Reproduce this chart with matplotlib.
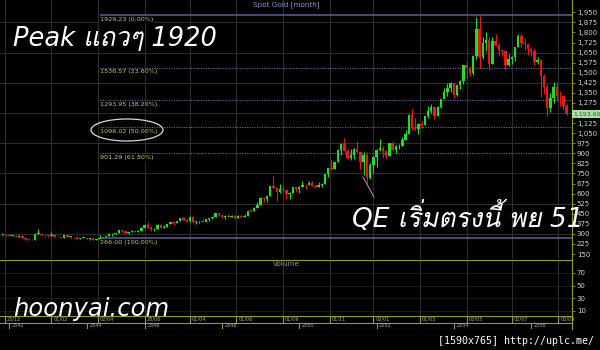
import numpy as np
import matplotlib
matplotlib.use("Agg")
import matplotlib.pyplot as plt
from matplotlib import font_manager
from matplotlib.ft2font import FT2Font
from matplotlib.patches import Ellipse
from matplotlib.lines import Line2D

# monthly spot gold, Nov 1998 .. Dec 2013 (source skips Jul-Dec 2001)
opens = [292, 294,
         288, 287, 287, 279, 286, 268, 261, 255, 254, 299, 299, 292,
         290, 283, 293, 278, 274, 272, 288, 277, 277, 273, 264, 270,
         272, 265, 267, 258, 264, 267,
         277, 282, 297, 302, 308, 327, 318, 304, 312, 324, 317, 319,
         347, 368, 347, 334, 336, 364, 346, 354, 375, 388, 384, 398,
         416, 402, 396, 427, 388, 393, 395, 391, 407, 415, 429, 452,
         438, 422, 435, 428, 435, 417, 436, 429, 433, 473, 470, 495,
         513, 568, 556, 582, 654, 643, 613, 633, 623, 599, 604, 646,
         632, 650, 665, 662, 679, 659, 650, 666, 673, 743, 789, 783,
         834, 923, 972, 916, 865, 886, 930, 913, 833, 884, 718, 815,
         869, 928, 942, 916, 883, 979, 927, 954, 955, 1001, 1040, 1182,
         1097, 1081, 1118, 1113, 1180, 1212, 1244, 1181, 1248, 1307, 1358, 1386,
         1421, 1333, 1411, 1439, 1556, 1536, 1500, 1628, 1826, 1620, 1722, 1746,
         1566, 1738, 1710, 1669, 1664, 1561, 1604, 1614, 1691, 1772, 1719, 1713,
         1675, 1664, 1578, 1595, 1472, 1393, 1234, 1312, 1395, 1326, 1323, 1253]
highs = [300, 297,
         293, 291, 290, 291, 290, 268, 264, 259, 302, 338, 302, 293,
         292, 316, 296, 287, 278, 293, 292, 279, 277, 275, 272, 275,
         272, 270, 268, 265, 293, 275,
         285, 303, 304, 310, 328, 329, 321, 315, 326, 325, 326, 349,
         372, 389, 356, 342, 373, 371, 365, 376, 391, 392, 399, 417,
         427, 414, 431, 430, 395, 398, 411, 414, 416, 429, 455, 456,
         438, 438, 445, 438, 437, 441, 437, 447, 474, 478, 497, 540,
         571, 574, 584, 654, 730, 644, 673, 663, 630, 609, 649, 648,
         658, 690, 668, 692, 691, 665, 683, 680, 745, 790, 848, 838,
         932, 975, 1011, 935, 933, 939, 988, 916, 912, 906, 830, 881,
         934, 1006, 958, 925, 980, 990, 959, 966, 1025, 1070, 1195, 1227,
         1162, 1128, 1137, 1180, 1249, 1265, 1245, 1250, 1308, 1388, 1424, 1431,
         1424, 1411, 1447, 1557, 1577, 1552, 1632, 1913, 1920, 1764, 1803, 1764,
         1763, 1791, 1720, 1677, 1667, 1640, 1625, 1693, 1788, 1796, 1755, 1723,
         1694, 1683, 1616, 1604, 1488, 1417, 1347, 1433, 1434, 1361, 1323, 1267]
lows = [291, 284,
        283, 282, 278, 278, 267, 257, 252, 252, 253, 296, 289, 280,
        280, 283, 276, 273, 268, 272, 275, 270, 268, 263, 263, 267,
        262, 255, 257, 255, 263, 266,
        276, 282, 287, 300, 306, 314, 300, 301, 311, 313, 315, 318,
        343, 346, 325, 319, 335, 342, 341, 350, 371, 367, 378, 396,
        400, 392, 391, 384, 371, 382, 387, 390, 399, 412, 426, 433,
        418, 411, 425, 423, 414, 415, 418, 428, 433, 462, 467, 492,
        513, 538, 537, 580, 643, 543, 608, 613, 561, 560, 604, 610,
        603, 650, 636, 662, 653, 640, 646, 648, 670, 721, 776, 781,
        834, 884, 915, 856, 850, 860, 907, 786, 736, 681, 706, 753,
        801, 920, 866, 866, 880, 915, 904, 932, 955, 1000, 1040, 1075,
        1075, 1045, 1088, 1113, 1164, 1199, 1157, 1177, 1240, 1310, 1330, 1360,
        1309, 1326, 1381, 1418, 1462, 1478, 1480, 1603, 1532, 1600, 1665, 1523,
        1563, 1696, 1628, 1627, 1527, 1547, 1565, 1591, 1690, 1692, 1672, 1635,
        1626, 1555, 1562, 1321, 1338, 1180, 1208, 1271, 1293, 1251, 1221, 1186]
closes = [294, 288,
          287, 287, 279, 286, 268, 261, 255, 254, 299, 299, 292, 290,
          283, 293, 278, 274, 272, 288, 277, 277, 273, 264, 270, 272,
          265, 267, 258, 264, 267, 270,
          282, 297, 302, 308, 327, 318, 304, 312, 324, 317, 319, 347,
          368, 347, 334, 336, 364, 346, 354, 375, 388, 384, 398, 416,
          402, 396, 427, 388, 393, 395, 391, 407, 415, 429, 452, 438,
          422, 435, 428, 435, 417, 436, 429, 433, 473, 470, 495, 513,
          568, 556, 582, 654, 643, 613, 633, 623, 599, 604, 646, 632,
          650, 665, 662, 679, 659, 650, 666, 673, 743, 789, 783, 834,
          923, 972, 916, 865, 886, 930, 913, 833, 884, 718, 815, 869,
          928, 942, 916, 883, 979, 927, 954, 955, 1001, 1040, 1182, 1097,
          1081, 1118, 1113, 1180, 1212, 1244, 1181, 1248, 1307, 1358, 1386, 1421,
          1333, 1411, 1439, 1556, 1536, 1500, 1628, 1826, 1620, 1722, 1746, 1566,
          1738, 1710, 1669, 1664, 1561, 1604, 1614, 1691, 1772, 1719, 1713, 1675,
          1664, 1578, 1595, 1472, 1393, 1234, 1312, 1395, 1326, 1323, 1253, 1193.6]

fib_levels = [1929.23, 1536.57, 1293.95, 1096.02, 901.29, 266.00]
fib_pcts = [0.00, 23.60, 38.20, 50.00, 61.80, 100.00]
fib_start = 30

price_ticks = list(range(150, 1951, 75))
grid_levels = price_ticks[2::3]
volume_ticks = [10, 30, 50, 70]
date_ticks = [0.5, 15, 29.5, 44, 58, 72.5, 87, 101.5, 115, 129.5, 144, 158, 172.5]
date_labels = ["25/12", "01/02", "02/04", "28/06", "01/04", "01/06", "01/09",
               "01/11", "02/01", "01/03", "02/05", "02/07", "03/09"]
year_starts = [2, 26, 44, 68, 92, 116, 140, 164]
year_labels = ["2542", "2544", "2546", "2548", "2550", "2552", "2554", "2556"]

W, H = 600, 350
BG = "#000000"
UP = "#1ee01e"
DOWN = "#e81818"
OLIVE = "#9a9a28"
GRID = "#303030"
BLUE_TXT = "#8496c8"


def thai_font():
    for f in font_manager.fontManager.ttflist:
        try:
            if 0x0E41 in FT2Font(f.fname).get_charmap():
                return f.name
        except Exception:
            continue
    return "DejaVu Sans"


def fx(px):
    return px / W


def fy(py):
    return 1 - py / H


THAI = thai_font()
fam = ["DejaVu Sans", THAI]

fig = plt.figure(figsize=(6, 3.5), dpi=100, facecolor=BG)
xlim = (-0.93, 176.7)

ax = fig.add_axes([0, fy(259), fx(572), 259 / H], facecolor=BG)
vax = fig.add_axes([0, fy(316), fx(572), 56 / H], facecolor=BG)
dax = fig.add_axes([0, fy(329), fx(572), 13 / H], facecolor=BG)

for a in (ax, vax, dax):
    a.set_xlim(*xlim)
    for s in a.spines.values():
        s.set_visible(False)
    a.spines["right"].set_visible(True)
    a.spines["right"].set_color(OLIVE)
    a.set_xticks([])

# price panel
ax.set_ylim(112.8, 2041.6)
ax.yaxis.tick_right()
ax.set_yticks(price_ticks)
ax.set_yticklabels([f"{t:,}" for t in price_ticks])
ax.tick_params(axis="y", colors=OLIVE, labelcolor="#d2d2d2", labelsize=5,
               length=2, width=0.6, pad=1.5)
for t in grid_levels:
    ax.axhline(t, color=GRID, lw=0.7, zorder=0)
for d in date_ticks:
    for a in (ax, vax):
        a.axvline(d, color=GRID, lw=0.7, zorder=0)

x = np.arange(len(closes))
o = np.array(opens, dtype=float)
c = np.array(closes, dtype=float)
up = c >= o
cols = np.where(up, UP, DOWN)
ax.vlines(x, lows, highs, colors=cols, lw=0.8, zorder=3)
ax.bar(x, np.maximum(np.abs(c - o), 4), bottom=np.minimum(o, c), width=0.75,
       color=cols, lw=0, zorder=3)

for lvl, pct in zip(fib_levels, fib_pcts):
    solid = pct in (0.0, 100.0)
    ax.hlines(lvl, fib_start, xlim[1], color="#5c5ca8" if solid else "#6a6aa8",
              lw=1.1 if solid else 0.8, linestyles="-" if solid else (0, (1, 1.2)),
              zorder=2)
    ax.annotate(f"{lvl:.2f} ({pct:.2f}%)", (fib_start, lvl), xytext=(0, -3),
                textcoords="offset points", va="center", ha="left",
                fontsize=4.6, color="#cccc40", zorder=4,
                bbox=dict(boxstyle="square,pad=0.15", fc=BG, ec="none"))

# last price tag
ax.annotate(f"{closes[-1]:,.2f}", (1.0, closes[-1]), xycoords=("axes fraction", "data"),
            xytext=(1, 0), textcoords="offset points", va="center", ha="left",
            fontsize=4.5, color="#355a35", annotation_clip=False,
            bbox=dict(boxstyle="square,pad=0.2", fc="#a8e0a8", ec="none"))

ax.text(0.5, 1 - 5 / 259, "Spot Gold [month]", transform=ax.transAxes,
        ha="center", va="center", fontsize=5.2, color=BLUE_TXT)

# volume panel
vax.set_ylim(2.1, 90.5)
vax.yaxis.tick_right()
vax.set_yticks(volume_ticks)
vax.tick_params(axis="y", colors=OLIVE, labelcolor="#d2d2d2", labelsize=5,
                length=2, width=0.6, pad=1.5)
vax.spines["top"].set_visible(True)
vax.spines["top"].set_color(OLIVE)
for t in volume_ticks:
    vax.axhline(t, color="#1e1e1e", lw=0.6, zorder=0)
vax.text(0.5, 0.93, "Volume", transform=vax.transAxes, ha="center", va="center",
         fontsize=5.2, color=BLUE_TXT)

# date rows
dax.set_ylim(0, 1)
dax.set_yticks([])
for yy in (0.0, 0.5, 1.0):
    dax.axhline(yy, color=OLIVE, lw=0.8)
for d, lab in zip(date_ticks, date_labels):
    dax.vlines(d, 0.5, 1.0, color=OLIVE, lw=0.8)
    dax.text(d + 0.6, 0.75, lab, ha="left", va="center", fontsize=3.6, color="#a8a8a8")
for d, lab in zip(year_starts, year_labels):
    dax.vlines(d, 0.0, 0.5, color=OLIVE, lw=0.8)
    dax.text(d + 0.8, 0.25, lab, ha="left", va="center", fontsize=3.6, color="#a8a8a8")

# hand-drawn notes
fig.add_artist(Ellipse((fx(127), fy(130)), fx(72), 22 / H, transform=fig.transFigure,
                       fill=False, ec="#d8d8d8", lw=0.9))
fig.add_artist(Line2D([fx(363), fx(374)], [fy(177), fy(197)], transform=fig.transFigure,
                      color="#bdbdbd", lw=0.6))
fig.text(fx(13), fy(46), "Peak แถวๆ 1920", family=fam, style="italic",
         fontsize=18.5, color="white", va="baseline", ha="left")
fig.text(fx(352), fy(227), "QE เริ่มตรงนี้ พย 51", family=fam, style="italic",
         fontsize=19, color="white", va="baseline", ha="left")
fig.text(fx(13), fy(316), "hoonyai.com", family=fam, style="italic",
         fontsize=17.5, color="white", va="baseline", ha="left")
fig.text(fx(594), fy(344), "[1590x765] http://uplc.me/", family="DejaVu Sans Mono",
         fontsize=7.2, color="white", va="baseline", ha="right")

fig.savefig("out.png", dpi=100, facecolor=BG)
